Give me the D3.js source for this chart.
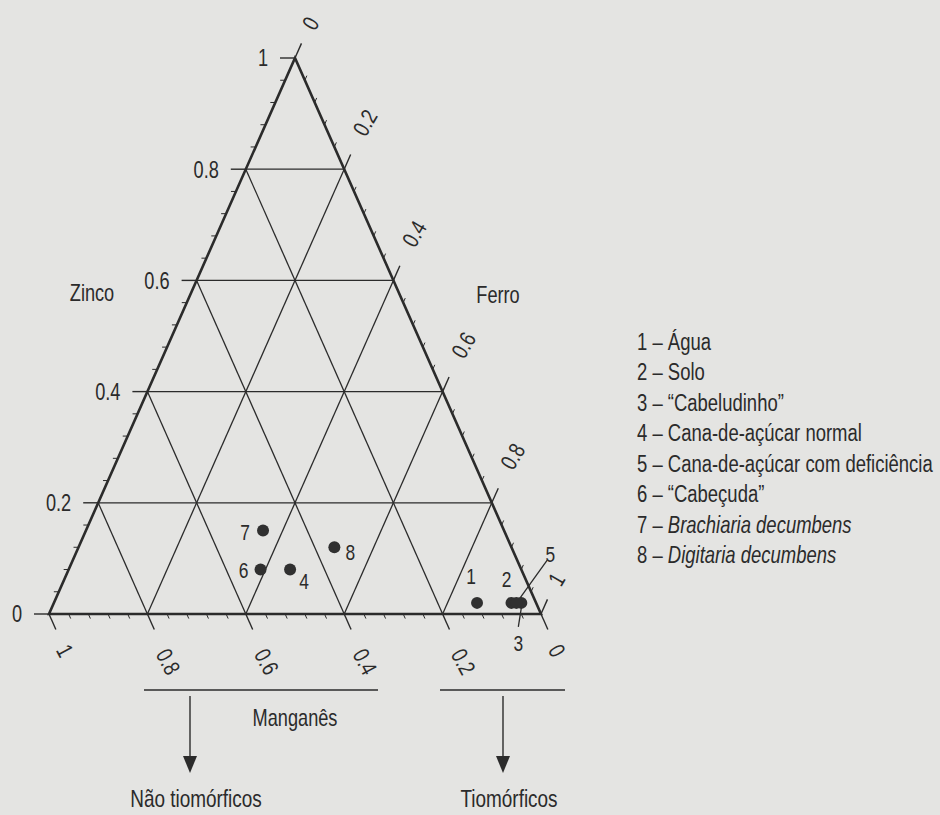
<!DOCTYPE html>
<html>
<head>
<meta charset="utf-8">
<script src="https://cdn.jsdelivr.net/npm/d3@7"></script>
<style>
  body { margin: 0; background: #e4e4e2; }
  svg text { fill: #2b2b2b; font-family: 'Liberation Sans Narrow', 'Arial Narrow', 'Liberation Sans', sans-serif; }
</style>
</head>
<body>
<div id="chart"></div>
<script>
// samples (Mn, Fe, Zn fractions)
var sampleIds = [1, 2, 3, 4, 5, 6, 7, 8];
var mn = [0.12, 0.05, 0.03, 0.47, 0.04, 0.53, 0.49, 0.36];
var fe = [0.86, 0.93, 0.95, 0.45, 0.94, 0.39, 0.36, 0.52];
var zn = [0.02, 0.02, 0.02, 0.08, 0.02, 0.08, 0.15, 0.12];

var legendNames = ["Água", "Solo", "“Cabeludinho”", "Cana-de-açúcar normal",
  "Cana-de-açúcar com deficiência", "“Cabeçuda”", "Brachiaria decumbens", "Digitaria decumbens"];
var legendItalic = [false, false, false, false, false, false, true, true];

var majorTicks = [0, 0.2, 0.4, 0.6, 0.8, 1];
var majorLabels = ["0", "0.2", "0.4", "0.6", "0.8", "1"];

var width = 940,
    height = 815;

var svg = d3.select("#chart").append("svg")
    .attr("width", width)
    .attr("height", height);

// triangle scales: x from (Fe + Zn/2), y from Zn
var xs = d3.scaleLinear().domain([0, 1]).range([49, 541]);
var ys = d3.scaleLinear().domain([0, 1]).range([614, 58]);

function pt(f, z) { return [xs(f + z / 2), ys(z)]; }

// outward directions for ticks
var ex = xs(0.5) - xs(0), ey = ys(1) - ys(0), el = Math.sqrt(ex * ex + ey * ey);
var dirFe = [ex / el, ey / el];     // up-right
var dirMn = [ex / el, -ey / el];    // down-right
var dirZn = [-1, 0];

var ink = "#2b2b2b";
var squeezeK = 0.79;   // the original uses a condensed face
var g = svg.append("g");

function seg(a, b, w) {
  g.append("line")
    .attr("x1", a[0]).attr("y1", a[1])
    .attr("x2", b[0]).attr("y2", b[1])
    .attr("stroke", ink).attr("stroke-width", w);
}
function off(p, d, len) { return [p[0] + d[0] * len, p[1] + d[1] * len]; }

// text placed with a transform so it can be rotated and squeezed
function label(x, y, str, size, anchor, angle, k) {
  return g.append("text")
    .attr("transform", "translate(" + x + "," + y + ")" +
      (angle ? " rotate(" + angle + ")" : "") + " scale(" + (k || squeezeK) + ",1)")
    .attr("text-anchor", anchor || "middle")
    .attr("dominant-baseline", "central")
    .style("font-size", size + "px")
    .text(str);
}

// grid lines
[0.2, 0.4, 0.6, 0.8].forEach(function(v) {
  seg(pt(0, v), pt(1 - v, v), 1.3);        // Zn constant
  seg(pt(v, 0), pt(v, 1 - v), 1.3);        // Fe constant
  seg(pt(0, 1 - v), pt(1 - v, 0), 1.3);    // Mn constant (Mn = v)
});

// minor ticks
d3.range(1, 25).forEach(function(i) {
  var v = i * 0.04;
  if (Math.abs(v / 0.2 - Math.round(v / 0.2)) < 1e-6) return;
  var pz = pt(0, v); seg(pz, off(pz, dirZn, 5), 1);
  var pf = pt(v, 1 - v); seg(pf, off(pf, dirFe, 5), 1);
  var pm = pt(v, 0); seg(pm, off(pm, dirMn, 5), 1);
});

// major ticks + labels
majorTicks.forEach(function(v, i) {
  var short = majorLabels[i].length === 1;
  // Zinco (left)
  var pz = pt(0, v);
  seg(pz, off(pz, dirZn, 15), 1.4);
  label(pz[0] - 27, pz[1], majorLabels[i], 23, "end");
  // Ferro (right)
  var pf = pt(v, 1 - v);
  seg(pf, off(pf, dirFe, 16), 1.4);
  var lf = off(pf, dirFe, short ? 38 : 51);
  label(lf[0], lf[1], majorLabels[i], 23, "middle", -60);
  // Manganês (bottom), 1 at left
  var pm = pt(1 - v, 0);
  seg(pm, off(pm, dirMn, 17), 1.4);
  var lm = off(pm, dirMn, short ? 40 : 52);
  label(lm[0], lm[1], majorLabels[i], 23, "middle", 62);
});

// triangle outline
g.append("path")
  .attr("d", "M" + pt(0, 0) + "L" + pt(1, 0) + "L" + pt(0, 1) + "Z")
  .attr("fill", "none").attr("stroke", ink).attr("stroke-width", 2.6)
  .attr("stroke-linejoin", "miter");

// axis titles
label(92, 293, "Zinco", 23);
label(498, 295, "Ferro", 23);
label(295, 718, "Manganês", 23);

// captions with arrows
function caption(xa, xb, xArrow, str) {
  seg([xa, 690], [xb, 690], 1.6);
  seg([xArrow, 696], [xArrow, 758], 1.4);
  g.append("path")
    .attr("d", "M" + (xArrow - 7) + ",756L" + (xArrow + 7) + ",756L" + xArrow + ",773Z")
    .attr("fill", ink);
  label(xArrow + 6, 799, str, 24);
}
caption(144, 378, 190, "Não tiomórficos");
caption(440, 565, 503, "Tiomórficos");

// sample points
var labelOffset = {1: [-6, -27], 2: [-5, -24], 3: [-3, 40], 4: [14, 12], 5: [34, -49],
                   6: [-17, 1], 7: [-18, 2], 8: [16, 5]};

var pts = sampleIds.map(function(id, i) {
  var p = pt(fe[i], zn[i]);
  return {id: id, x: p[0], y: p[1]};
});

// leader lines for 3 and 5
pts.forEach(function(d) {
  if (d.id === 3) seg([d.x, d.y + 5], [d.x - 3, d.y + 24], 1.3);
  if (d.id === 5) seg([d.x + 3, d.y - 4], [d.x + 31, d.y - 43], 1.3);
});

g.selectAll("circle.pt").data(pts).enter().append("circle")
  .attr("class", "pt")
  .attr("cx", function(d) { return d.x; })
  .attr("cy", function(d) { return d.y; })
  .attr("r", 6)
  .attr("fill", "#303030");

pts.forEach(function(d) {
  label(d.x + labelOffset[d.id][0], d.y + labelOffset[d.id][1], d.id, 22);
});

// legend
legendNames.forEach(function(name, i) {
  var t = label(637, 342 + i * 30.5, "", 24, "start", 0, 0.77);
  t.append("tspan").text(sampleIds[i] + " – ");
  t.append("tspan").style("font-style", legendItalic[i] ? "italic" : "normal").text(name);
});
</script>
</body>
</html>
